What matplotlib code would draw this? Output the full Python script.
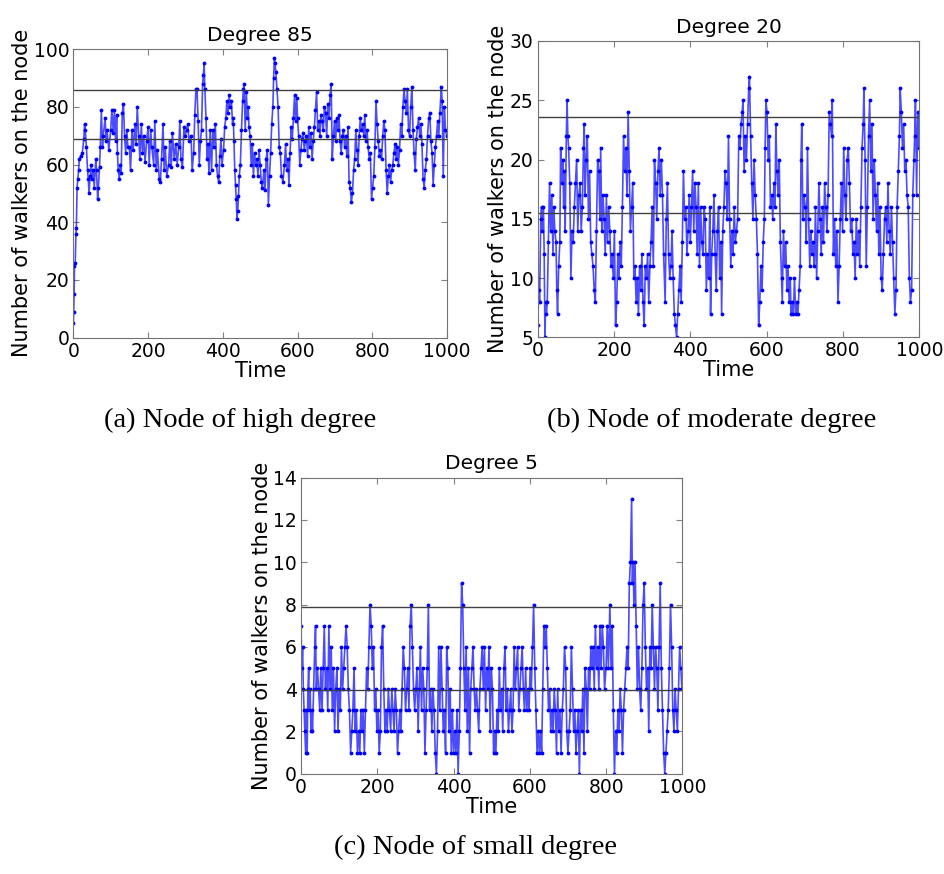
import matplotlib
matplotlib.use("Agg")
import matplotlib.pyplot as plt

# ---- data ----
time_a = [0, 1, 2, 3, 5, 7, 8, 10, 12, 14,
          16, 20, 24, 28, 30, 32, 35, 38, 40, 42,
          45, 48, 50, 53, 56, 60, 62, 65, 67, 70,
          72, 75, 78, 80, 85, 88, 90, 95, 100, 103,
          107, 110, 113, 116, 118, 120, 123, 126, 128, 131,
          134, 137, 140, 143, 146, 150, 153, 157, 160, 165,
          168, 171, 175, 178, 182, 185, 188, 192, 196, 200,
          203, 207, 210, 215, 218, 222, 225, 230, 233, 236,
          240, 243, 246, 250, 255, 258, 262, 265, 270, 274,
          278, 282, 285, 288, 292, 296, 300, 303, 306, 310,
          315, 318, 322, 325, 328, 331, 334, 337, 340, 343,
          346, 348, 350, 352, 355, 358, 360, 363, 366, 370,
          373, 376, 380, 383, 386, 389, 392, 395, 398, 402,
          405, 408, 411, 414, 417, 420, 423, 426, 428, 430,
          432, 434, 436, 438, 440, 442, 444, 447, 450, 453,
          455, 457, 460, 463, 466, 468, 470, 473, 476, 479,
          482, 485, 488, 491, 494, 497, 500, 503, 506, 510,
          513, 516, 519, 522, 525, 528, 531, 534, 536, 538,
          540, 542, 545, 548, 551, 554, 557, 561, 565, 568,
          571, 574, 577, 580, 583, 586, 589, 592, 595, 598,
          600, 603, 606, 609, 612, 615, 618, 621, 624, 627,
          630, 633, 636, 639, 642, 645, 648, 651, 654, 657,
          660, 663, 666, 669, 672, 675, 678, 681, 684, 687,
          690, 693, 696, 699, 702, 705, 708, 711, 714, 717,
          720, 723, 726, 729, 732, 735, 738, 741, 744, 747,
          750, 753, 756, 759, 762, 765, 768, 771, 774, 777,
          780, 783, 786, 789, 792, 795, 798, 801, 804, 807,
          810, 813, 816, 819, 822, 825, 828, 831, 834, 837,
          840, 843, 846, 849, 852, 855, 858, 861, 864, 867,
          870, 873, 876, 879, 882, 885, 888, 891, 894, 897,
          900, 903, 906, 909, 912, 915, 918, 921, 924, 927,
          930, 933, 936, 939, 942, 945, 948, 951, 954, 957,
          960, 963, 966, 969, 972, 975, 978, 981, 985, 987,
          990, 993, 996, 999]
walkers_a = [5, 9, 15, 25, 26, 36, 38, 52, 55, 58,
             62, 63, 64, 69, 74, 72, 66, 58, 55, 50,
             56, 60, 55, 58, 52, 62, 58, 48, 52, 59,
             66, 79, 66, 70, 76, 68, 72, 65, 72, 79,
             71, 79, 68, 77, 64, 58, 55, 60, 57, 78,
             81, 70, 64, 72, 66, 66, 58, 72, 65, 74,
             67, 80, 70, 62, 74, 64, 70, 61, 68, 73,
             60, 72, 66, 60, 75, 58, 65, 55, 54, 62,
             74, 58, 66, 56, 60, 68, 59, 71, 62, 67,
             60, 66, 75, 62, 59, 73, 70, 72, 74, 68,
             70, 58, 64, 77, 86, 86, 75, 60, 68, 72,
             88, 91, 95, 86, 76, 62, 67, 57, 72, 58,
             72, 66, 74, 60, 56, 54, 63, 69, 60, 65,
             73, 76, 82, 78, 84, 80, 82, 74, 76, 68,
             58, 53, 48, 41, 44, 49, 56, 60, 72, 82,
             86, 88, 72, 85, 76, 80, 73, 70, 60, 67,
             56, 64, 60, 62, 56, 65, 60, 54, 52, 58,
             51, 62, 65, 46, 56, 64, 74, 80, 90, 97,
             95, 92, 86, 80, 66, 64, 56, 54, 60, 67,
             58, 62, 53, 64, 73, 69, 76, 84, 75, 83,
             76, 70, 60, 65, 69, 71, 65, 68, 70, 63,
             73, 66, 71, 62, 68, 73, 79, 85, 72, 75,
             70, 77, 75, 72, 80, 78, 70, 81, 76, 84,
             88, 62, 70, 75, 68, 76, 72, 77, 68, 64,
             70, 72, 66, 70, 63, 73, 54, 52, 47, 50,
             58, 62, 72, 65, 60, 70, 76, 72, 74, 70,
             77, 68, 72, 66, 62, 64, 48, 52, 56, 66,
             82, 74, 68, 63, 65, 62, 70, 75, 72, 58,
             50, 56, 60, 54, 58, 60, 64, 67, 62, 66,
             60, 65, 74, 70, 80, 86, 82, 78, 86, 72,
             70, 80, 87, 72, 64, 58, 69, 73, 76, 70,
             74, 67, 55, 52, 58, 62, 70, 76, 78, 68,
             64, 53, 60, 66, 70, 75, 70, 78, 87, 82,
             56, 80, 72, 70]
levels_a = [85.8, 68.7]

time_b = [0, 3, 5, 8, 10, 12, 15, 17, 19, 21,
          23, 25, 28, 31, 34, 37, 40, 42, 45, 48,
          50, 52, 55, 58, 60, 63, 66, 68, 70, 72,
          75, 77, 79, 81, 84, 87, 90, 93, 96, 99,
          102, 105, 108, 111, 114, 117, 120, 122, 124, 127,
          130, 133, 136, 139, 142, 145, 148, 151, 154, 157,
          160, 163, 165, 168, 171, 174, 177, 180, 183, 186,
          189, 192, 195, 198, 201, 204, 207, 210, 213, 216,
          219, 222, 225, 228, 231, 234, 237, 240, 243, 246,
          249, 252, 255, 258, 261, 264, 267, 270, 273, 276,
          279, 282, 285, 288, 291, 294, 297, 300, 303, 306,
          309, 312, 315, 318, 321, 324, 327, 330, 334, 337,
          340, 343, 346, 349, 352, 355, 358, 361, 364, 367,
          370, 373, 376, 379, 382, 385, 388, 391, 394, 397,
          400, 403, 406, 409, 412, 415, 418, 421, 424, 427,
          430, 433, 436, 439, 442, 445, 448, 451, 453, 456,
          459, 462, 465, 468, 471, 474, 477, 480, 482, 485,
          488, 491, 494, 497, 500, 503, 506, 509, 512, 515,
          518, 521, 524, 527, 530, 533, 536, 538, 541, 544,
          547, 550, 553, 555, 558, 561, 564, 567, 570, 573,
          576, 579, 582, 585, 588, 591, 594, 596, 598, 601,
          604, 607, 610, 613, 616, 619, 622, 624, 627, 630,
          633, 636, 639, 641, 644, 647, 650, 653, 656, 659,
          662, 664, 667, 670, 673, 676, 679, 682, 685, 688,
          690, 692, 695, 698, 701, 704, 707, 710, 713, 716,
          719, 722, 725, 728, 731, 734, 737, 740, 743, 746,
          749, 752, 755, 758, 761, 764, 767, 770, 772, 775,
          778, 781, 784, 787, 790, 793, 796, 799, 802, 805,
          808, 811, 814, 817, 820, 823, 826, 829, 832, 835,
          838, 841, 844, 847, 850, 853, 855, 858, 861, 864,
          867, 870, 873, 876, 879, 882, 885, 888, 891, 894,
          897, 900, 903, 906, 909, 912, 915, 918, 921, 924,
          927, 930, 933, 936, 939, 942, 945, 948, 950, 953,
          956, 959, 962, 965, 968, 971, 974, 977, 980, 983,
          986, 988, 990, 993, 996, 999]
walkers_b = [6, 9, 8, 15, 16, 14, 16, 12, 5, 8,
             7, 8, 13, 18, 14, 17, 12, 16, 14, 13,
             9, 7, 11, 13, 21, 18, 20, 16, 19, 14,
             22, 25, 22, 21, 18, 10, 14, 13, 16, 18,
             20, 14, 17, 18, 14, 16, 21, 23, 17, 20,
             22, 15, 19, 13, 12, 11, 9, 8, 14, 20,
             19, 15, 21, 14, 17, 15, 12, 17, 13, 16,
             14, 11, 12, 10, 14, 6, 8, 12, 10, 13,
             11, 16, 22, 19, 21, 17, 24, 19, 14, 16,
             18, 10, 11, 8, 10, 7, 11, 9, 12, 8,
             6, 11, 10, 12, 8, 11, 13, 16, 11, 20,
             18, 15, 19, 21, 17, 20, 17, 12, 8, 15,
             18, 12, 10, 11, 14, 10, 7, 6, 5, 7,
             9, 11, 8, 13, 19, 15, 16, 12, 14, 17,
             13, 16, 19, 14, 18, 16, 12, 18, 11, 16,
             13, 12, 16, 15, 9, 12, 10, 16, 7, 12,
             14, 17, 12, 9, 14, 16, 10, 13, 7, 14,
             16, 19, 18, 15, 22, 15, 11, 14, 12, 16,
             13, 14, 15, 22, 21, 23, 24, 25, 19, 22,
             20, 23, 26, 27, 22, 18, 15, 20, 17, 15,
             12, 6, 8, 11, 9, 13, 15, 21, 25, 24,
             20, 22, 16, 17, 15, 18, 16, 23, 19, 17,
             20, 13, 10, 8, 14, 11, 13, 9, 11, 8,
             10, 7, 8, 7, 10, 7, 8, 7, 9, 11,
             20, 23, 15, 17, 16, 13, 21, 15, 11, 14,
             12, 13, 11, 16, 10, 14, 18, 15, 12, 16,
             13, 18, 16, 14, 17, 24, 23, 22, 25, 12,
             15, 11, 14, 8, 11, 15, 18, 14, 21, 17,
             15, 20, 21, 18, 14, 15, 12, 13, 10, 15,
             12, 14, 11, 16, 21, 23, 26, 20, 11, 16,
             22, 25, 19, 23, 15, 20, 17, 14, 18, 12,
             16, 10, 9, 12, 15, 16, 13, 18, 14, 12,
             16, 13, 10, 7, 9, 16, 19, 22, 26, 24,
             21, 23, 19, 20, 17, 16, 10, 8, 9, 17,
             20, 22, 25, 17, 24, 21]
levels_b = [23.56, 15.46]

time_c = [0, 2, 4, 6, 8, 10, 12, 14, 16, 18,
          20, 22, 24, 26, 28, 30, 33, 36, 38, 40,
          43, 46, 49, 52, 55, 58, 61, 64, 67, 70,
          73, 76, 79, 82, 85, 88, 91, 94, 97, 100,
          103, 106, 109, 112, 115, 118, 121, 124, 127, 130,
          133, 136, 139, 142, 145, 148, 151, 154, 157, 160,
          163, 166, 169, 172, 175, 178, 181, 184, 187, 190,
          193, 196, 199, 202, 205, 208, 211, 214, 217, 220,
          223, 226, 229, 232, 235, 238, 241, 244, 247, 250,
          253, 256, 259, 262, 265, 268, 271, 274, 277, 280,
          283, 286, 289, 292, 295, 298, 301, 304, 307, 310,
          313, 316, 319, 322, 325, 328, 331, 334, 337, 340,
          343, 346, 349, 352, 355, 358, 361, 364, 367, 370,
          373, 376, 379, 382, 385, 388, 391, 394, 397, 400,
          403, 406, 409, 412, 415, 418, 421, 424, 427, 430,
          433, 436, 439, 442, 445, 448, 451, 454, 457, 460,
          463, 466, 469, 472, 475, 478, 481, 484, 487, 490,
          493, 496, 499, 502, 505, 508, 511, 514, 517, 520,
          523, 526, 529, 532, 535, 538, 541, 544, 547, 550,
          553, 556, 559, 562, 565, 568, 571, 574, 577, 580,
          583, 586, 589, 592, 595, 598, 601, 604, 607, 610,
          613, 616, 619, 622, 625, 628, 631, 634, 637, 640,
          643, 646, 649, 652, 655, 658, 661, 664, 667, 670,
          673, 676, 679, 682, 685, 688, 691, 694, 697, 700,
          703, 706, 709, 712, 715, 718, 721, 724, 727, 730,
          733, 736, 739, 742, 745, 748, 751, 754, 757, 760,
          763, 766, 769, 772, 775, 778, 781, 784, 787, 790,
          793, 796, 800, 803, 806, 810, 813, 816, 819, 822,
          825, 828, 831, 834, 837, 840, 843, 846, 849, 852,
          855, 858, 861, 864, 867, 869, 871, 873, 876, 879,
          882, 885, 888, 891, 894, 897, 900, 903, 906, 909,
          912, 915, 918, 921, 924, 927, 930, 933, 936, 939,
          942, 945, 948, 951, 954, 957, 960, 963, 966, 969,
          972, 975, 978, 981, 984, 987, 990, 993, 996, 999]
walkers_c = [7, 5, 6, 4, 3, 2, 1, 3, 1, 4,
             5, 3, 4, 2, 3, 2, 4, 6, 7, 4,
             5, 4, 3, 5, 3, 5, 7, 4, 5, 3,
             7, 4, 6, 3, 5, 2, 4, 5, 2, 4,
             3, 6, 4, 5, 6, 7, 6, 4, 3, 1,
             2, 3, 5, 2, 3, 1, 2, 1, 3, 2,
             3, 1, 3, 5, 4, 6, 8, 7, 5, 6,
             3, 4, 2, 3, 1, 2, 6, 7, 4, 2,
             3, 2, 4, 3, 2, 4, 3, 2, 4, 3,
             1, 2, 3, 2, 4, 6, 5, 3, 4, 5,
             3, 7, 8, 6, 4, 3, 4, 5, 2, 4,
             6, 3, 5, 4, 1, 3, 5, 8, 3, 4,
             2, 4, 3, 1, 0, 2, 6, 3, 6, 4,
             2, 3, 1, 6, 5, 2, 4, 1, 3, 1,
             2, 1, 3, 0, 2, 5, 9, 8, 5, 3,
             6, 2, 5, 1, 4, 5, 6, 4, 3, 4,
             3, 2, 4, 5, 6, 4, 6, 3, 5, 4,
             6, 2, 5, 4, 1, 2, 1, 3, 2, 5,
             3, 4, 2, 5, 6, 3, 4, 2, 3, 4,
             2, 3, 6, 4, 5, 6, 3, 4, 5, 6,
             4, 3, 5, 3, 4, 3, 5, 4, 6, 8,
             5, 3, 1, 2, 1, 2, 1, 4, 7, 6,
             7, 5, 3, 4, 2, 3, 2, 4, 3, 1,
             4, 2, 3, 1, 3, 4, 6, 5, 2, 1,
             2, 3, 6, 4, 2, 3, 1, 2, 3, 0,
             3, 2, 4, 1, 5, 4, 2, 5, 4, 6,
             5, 6, 4, 7, 5, 6, 4, 7, 5, 7,
             6, 4, 5, 7, 5, 8, 5, 7, 3, 0,
             2, 1, 3, 2, 4, 3, 1, 3, 4, 5,
             6, 5, 9, 10, 13, 9, 10, 8, 10, 7,
             4, 6, 4, 3, 5, 8, 9, 6, 4, 5,
             2, 6, 5, 8, 6, 4, 6, 5, 3, 6,
             9, 5, 3, 1, 0, 1, 2, 3, 5, 8,
             6, 3, 2, 4, 3, 2, 4, 6, 5, 4]
levels_c = [7.87, 3.96]

titles = ["Degree 85", "Degree 20", "Degree 5"]
captions = ["(a) Node of high degree", "(b) Node of moderate degree",
            "(c) Node of small degree"]
ylims = [(0, 100), (5, 30), (0, 14)]
yticks = [list(range(0, 101, 20)), list(range(5, 31, 5)), list(range(0, 15, 2))]

fig = plt.figure(figsize=(9.44, 8.74), dpi=100)

# axes boxes measured in pixels on the reference
boxes = [(0.0777, 0.6136, 0.3958, 0.3303),
         (0.5696, 0.6141, 0.4042, 0.3390),
         (0.3189, 0.1148, 0.4039, 0.3387)]
caption_pos = [(0.254, 0.519), (0.754, 0.519), (0.504, 0.030)]

series = [(time_a, walkers_a, levels_a),
          (time_b, walkers_b, levels_b),
          (time_c, walkers_c, levels_c)]

for i, (t, w, lev) in enumerate(series):
    ax = fig.add_axes(boxes[i])
    ax.plot(t, w, color="blue", lw=1.2, alpha=0.7)
    ax.plot(t, w, ".", color="blue", ms=3.5)
    for v in lev:
        ax.axhline(v, color="0.25", lw=1.0)
    ax.set_xlim(0, 1000)
    ax.set_ylim(*ylims[i])
    ax.set_xticks(range(0, 1001, 200))
    ax.set_yticks(yticks[i])
    ax.tick_params(direction="in", top=True, right=True, length=4,
                   color="0.5", labelsize=13.5, pad=3)
    for s in ax.spines.values():
        s.set_color("0.45")
    ax.set_title(titles[i], fontsize=14.5, pad=6)
    ax.set_xlabel("Time", fontsize=15, labelpad=0)
    ax.set_ylabel("Number of walkers on the node", fontsize=15, labelpad=1)
    fig.text(caption_pos[i][0], caption_pos[i][1], captions[i],
             ha="center", va="center", family="Liberation Serif", fontsize=20.5)

plt.savefig("out.png", dpi=100)
